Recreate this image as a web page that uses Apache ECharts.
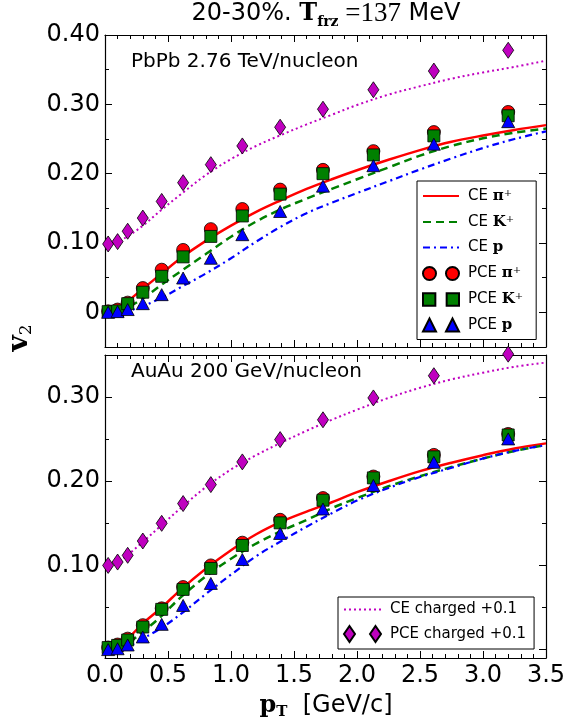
<!DOCTYPE html>
<html>
<head>
<meta charset="utf-8">
<script src="https://cdn.jsdelivr.net/npm/echarts@6/dist/echarts.min.js"></script>
<style>
  html, body { margin: 0; padding: 0; background: #fff; }
  #chart { width: 569px; height: 723px; }
</style>
</head>
<body>
<div id="chart"></div>
<script>
// pT grid of the continuous (CE) curves
const xCurve = [0, 0.1, 0.2, 0.3, 0.45, 0.6, 0.8, 1.0, 1.2, 1.4, 1.6, 1.8, 2.0, 2.25, 2.5, 2.75, 3.0, 3.25, 3.5];
// pT of the PCE points
const xPoints = [0.025, 0.1, 0.18, 0.3, 0.45, 0.62, 0.84, 1.09, 1.39, 1.73, 2.13, 2.61, 3.2];

// PbPb 2.76 TeV/nucleon
const cePionPb   = [0.0, 0.006, 0.019, 0.034, 0.056, 0.078, 0.103, 0.125, 0.145, 0.162, 0.178, 0.192, 0.205, 0.220, 0.234, 0.246, 0.255, 0.263, 0.270];
const ceKaonPb   = [0.0, 0.002, 0.009, 0.020, 0.040, 0.059, 0.084, 0.109, 0.131, 0.149, 0.164, 0.178, 0.192, 0.209, 0.226, 0.240, 0.251, 0.259, 0.265];
const ceProtonPb = [0.0, 0.0, 0.003, 0.009, 0.021, 0.036, 0.056, 0.078, 0.102, 0.124, 0.143, 0.158, 0.172, 0.189, 0.206, 0.222, 0.237, 0.250, 0.261];
const ceChargedPb = [0.099, 0.102, 0.112, 0.125, 0.148, 0.170, 0.198, 0.221, 0.240, 0.256, 0.271, 0.285, 0.299, 0.314, 0.326, 0.337, 0.346, 0.354, 0.363];
const pcePionPb   = [0.0015, 0.004, 0.014, 0.035, 0.0615, 0.090, 0.120, 0.149, 0.177, 0.2055, 0.2325, 0.260, 0.289];
const pceKaonPb   = [0.001, 0.002, 0.0125, 0.029, 0.052, 0.080, 0.1095, 0.139, 0.1705, 0.200, 0.227, 0.2545, 0.2835];
const pceProtonPb = [0.0, 0.001, 0.004, 0.0125, 0.0255, 0.0495, 0.078, 0.112, 0.1455, 0.182, 0.2115, 0.2425, 0.275];
const pceChargedPb = [0.0986, 0.102, 0.117, 0.136, 0.160, 0.187, 0.213, 0.240, 0.267, 0.293, 0.321, 0.348, 0.378];

// AuAu 200 GeV/nucleon
const cePionAu   = [0.0, 0.004, 0.016, 0.031, 0.050, 0.071, 0.096, 0.118, 0.137, 0.152, 0.164, 0.175, 0.187, 0.200, 0.212, 0.222, 0.231, 0.239, 0.245];
const ceKaonAu   = [0.0, 0.003, 0.010, 0.021, 0.040, 0.062, 0.087, 0.108, 0.126, 0.141, 0.154, 0.168, 0.180, 0.194, 0.206, 0.217, 0.227, 0.236, 0.243];
const ceProtonAu = [0.0, 0.001, 0.005, 0.013, 0.026, 0.042, 0.066, 0.089, 0.111, 0.129, 0.146, 0.162, 0.177, 0.192, 0.205, 0.216, 0.227, 0.236, 0.243];
const ceChargedAu = [0.100, 0.104, 0.115, 0.128, 0.148, 0.168, 0.193, 0.214, 0.231, 0.246, 0.260, 0.273, 0.285, 0.299, 0.311, 0.321, 0.329, 0.336, 0.341];
const pcePionAu   = [0.0025, 0.006, 0.013, 0.029, 0.049, 0.0743, 0.100, 0.127, 0.1542, 0.180, 0.2056, 0.2313, 0.2562];
const pceKaonAu   = [0.0024, 0.005, 0.0114, 0.0268, 0.0478, 0.0715, 0.0964, 0.1237, 0.1506, 0.1775, 0.204, 0.229, 0.255];
const pceProtonAu = [0.0, 0.001, 0.0055, 0.015, 0.030, 0.0525, 0.0786, 0.107, 0.138, 0.167, 0.195, 0.2225, 0.2503];
const pceChargedAu = [0.100, 0.104, 0.112, 0.129, 0.150, 0.1735, 0.196, 0.223, 0.2495, 0.273, 0.299, 0.3254, 0.351];

// axis ticks
const xTicks = [0, 0.5, 1.0, 1.5, 2.0, 2.5, 3.0, 3.5];
const yMajorPb = [0, 0.1, 0.2, 0.3, 0.4];
const yMinorPb = [-0.05, 0, 0.05, 0.1, 0.15, 0.2, 0.25, 0.3, 0.35, 0.4];
const yMajorAu = [0, 0.1, 0.2, 0.3];
const yLabelsAu = [0.1, 0.2, 0.3];
const yMinorAu = [0, 0.05, 0.1, 0.15, 0.2, 0.25, 0.3, 0.35];

const RED = '#ff0000', GREEN = '#008000', BLUE = '#0000ff', MAGENTA = '#bf00bf';
const SANS = 'DejaVu Sans', SERIF = 'DejaVu Serif';

const pair = (xs, ys) => xs.map((x, i) => [x, ys[i]]);

function xAxisDef(grid, position, showLabels) {
  return {
    type: 'value', gridIndex: grid, position: position,
    min: xTicks[0], max: xTicks[xTicks.length - 1], interval: 0.5,
    axisLine: { show: true, onZero: false, lineStyle: { color: '#000', width: 1.2 } },
    axisTick: { show: true, inside: true, length: 7, lineStyle: { color: '#000', width: 1 } },
    minorTick: { show: true, splitNumber: 5, length: 4, lineStyle: { color: '#000', width: 1 } },
    splitLine: { show: false },
    axisLabel: {
      show: showLabels, margin: 6, color: '#000', fontFamily: SANS, fontSize: 24,
      formatter: v => v.toFixed(1)
    }
  };
}

function yMajorDef(grid, position, min, max, ticks, labels) {
  return {
    type: 'value', gridIndex: grid, position: position, min: min, max: max,
    axisLine: { show: true, onZero: false, lineStyle: { color: '#000', width: 1.2 } },
    axisTick: { show: true, inside: true, length: 7, customValues: ticks, lineStyle: { color: '#000', width: 1 } },
    splitLine: { show: false },
    axisLabel: labels ? {
      show: true, margin: 5, color: '#000', fontFamily: SANS, fontSize: 24,
      customValues: labels,
      formatter: v => (Math.abs(v) < 1e-9 ? '0' : v.toFixed(2))
    } : { show: false }
  };
}

function yMinorDef(grid, position, min, max, ticks) {
  return {
    type: 'value', gridIndex: grid, position: position, min: min, max: max,
    axisLine: { show: false, onZero: false },
    axisTick: { show: true, inside: true, length: 4, customValues: ticks, lineStyle: { color: '#000', width: 1 } },
    splitLine: { show: false },
    axisLabel: { show: false }
  };
}

function curve(name, xi, yi, ys, color, type, width) {
  return {
    name: name, type: 'line', xAxisIndex: xi, yAxisIndex: yi,
    data: pair(xCurve, ys), showSymbol: false, symbol: 'none',
    smooth: 0.35, z: 2, silent: true,
    lineStyle: { color: color, width: width, type: type }, itemStyle: { color: color }
  };
}

function points(name, xi, yi, ys, color, symbol, size, z) {
  return {
    name: name, type: 'scatter', xAxisIndex: xi, yAxisIndex: yi,
    data: pair(xPoints, ys), symbol: symbol, symbolSize: size, clip: false, z: z,
    itemStyle: { color: color, borderColor: '#000', borderWidth: 0.8, opacity: 1 }
  };
}

const legendRich = {
  t: { fontFamily: SANS, fontSize: 15, lineHeight: 16, color: '#000' },
  b: { fontFamily: SERIF, fontWeight: 'bold', fontSize: 15, lineHeight: 16, color: '#000' },
  sup: { fontFamily: SERIF, fontSize: 10, lineHeight: 9, verticalAlign: 'top', color: '#000' }
};
const legendText = {
  'CE π+': '{t|CE }{b|π}{sup|+}',
  'CE K+': '{t|CE }{b|K}{sup|+}',
  'CE p': '{t|CE }{b|p}',
  'PCE π+': '{t|PCE }{b|π}{sup|+}',
  'PCE K+': '{t|PCE }{b|K}{sup|+}',
  'PCE p': '{t|PCE }{b|p}',
  'CE charged +0.1': '{t|CE charged +0.1}',
  'PCE charged +0.1': '{t|PCE charged +0.1}'
};

const ICON_CIRCLES = 'path://M0,6.5A6.5,6.5,0,1,1,13,6.5A6.5,6.5,0,1,1,0,6.5Z M23,6.5A6.5,6.5,0,1,1,36,6.5A6.5,6.5,0,1,1,23,6.5Z';
const ICON_SQUARES = 'path://M0.5,0.5H12.5V12.5H0.5Z M23.5,0.5H35.5V12.5H23.5Z';
const ICON_TRIANGLES = 'path://M0,13L6.5,0L13,13Z M23,13L29.5,0L36,13Z';
const ICON_DIAMONDS = 'path://M5.5,0L11,8L5.5,16L0,8Z M31.5,0L37,8L31.5,16L26,8Z';
// line entries: keep the stroke, hide the marker drawn in the middle of it
const lineEntry = name => ({ name: name, itemStyle: { opacity: 0, borderWidth: 0 }, lineStyle: { opacity: 1 } });

const chart = echarts.init(document.getElementById('chart'), null, { renderer: 'canvas' });

const option = {
  backgroundColor: '#fff',
  animation: false,
  grid: [
    { left: 105, top: 35, width: 441, height: 312 },
    { left: 105, top: 355, width: 441, height: 303 }
  ],
  xAxis: [
    xAxisDef(0, 'bottom', false),
    xAxisDef(0, 'top', false),
    xAxisDef(1, 'bottom', true),
    xAxisDef(1, 'top', false)
  ],
  yAxis: [
    yMajorDef(0, 'left', -0.05, 0.4, yMajorPb, yMajorPb),
    yMajorDef(0, 'right', -0.05, 0.4, yMajorPb, null),
    yMinorDef(0, 'left', -0.05, 0.4, yMinorPb),
    yMinorDef(0, 'right', -0.05, 0.4, yMinorPb),
    yMajorDef(1, 'left', -0.01, 0.35, yMajorAu, yLabelsAu),
    yMajorDef(1, 'right', -0.01, 0.35, yMajorAu, null),
    yMinorDef(1, 'left', -0.01, 0.35, yMinorAu),
    yMinorDef(1, 'right', -0.01, 0.35, yMinorAu)
  ],
  legend: [
    {
      orient: 'vertical', left: 417, top: 181, z: 20,
      padding: [7, 13, 7, 5], itemGap: 10.5, itemWidth: 36, itemHeight: 13,
      backgroundColor: '#fff', borderColor: '#000', borderWidth: 1, borderRadius: 0,
      selectedMode: false,
      textStyle: { fontFamily: SANS, fontSize: 15, color: '#000', padding: [0, 0, 0, 4], rich: legendRich },
      formatter: n => legendText[n],
      data: [
        lineEntry('CE π+'),
        lineEntry('CE K+'),
        lineEntry('CE p'),
        { name: 'PCE π+', icon: ICON_CIRCLES },
        { name: 'PCE K+', icon: ICON_SQUARES },
        { name: 'PCE p', icon: ICON_TRIANGLES }
      ]
    },
    {
      orient: 'vertical', left: 338, top: 597, z: 20,
      padding: [5, 8, 6, 5], itemGap: 8, itemWidth: 37, itemHeight: 16,
      backgroundColor: '#fff', borderColor: '#000', borderWidth: 1, borderRadius: 0,
      selectedMode: false,
      textStyle: { fontFamily: SANS, fontSize: 15, color: '#000', padding: [0, 0, 0, 4], rich: legendRich },
      formatter: n => legendText[n],
      data: [
        lineEntry('CE charged +0.1'),
        { name: 'PCE charged +0.1', icon: ICON_DIAMONDS }
      ]
    }
  ],
  series: [
    // PbPb panel
    curve('CE π+', 0, 0, cePionPb, RED, 'solid', 2.5),
    curve('CE K+', 0, 0, ceKaonPb, GREEN, [8, 5], 2.5),
    curve('CE p', 0, 0, ceProtonPb, BLUE, [7, 4, 2, 4], 2.2),
    curve('CE charged +0.1', 0, 0, ceChargedPb, MAGENTA, [2, 3], 2),
    points('PCE π+', 0, 0, pcePionPb, RED, 'circle', 13, 3),
    points('PCE K+', 0, 0, pceKaonPb, GREEN, 'rect', 12, 4),
    points('PCE p', 0, 0, pceProtonPb, BLUE, 'triangle', [13, 12], 5),
    points('PCE charged +0.1', 0, 0, pceChargedPb, MAGENTA, 'diamond', [11, 16], 5),
    // AuAu panel
    curve('CE π+', 2, 4, cePionAu, RED, 'solid', 2.5),
    curve('CE K+', 2, 4, ceKaonAu, GREEN, [8, 5], 2.5),
    curve('CE p', 2, 4, ceProtonAu, BLUE, [7, 4, 2, 4], 2.2),
    curve('CE charged +0.1', 2, 4, ceChargedAu, MAGENTA, [2, 3], 2),
    points('PCE π+', 2, 4, pcePionAu, RED, 'circle', 13, 3),
    points('PCE K+', 2, 4, pceKaonAu, GREEN, 'rect', 12, 4),
    points('PCE p', 2, 4, pceProtonAu, BLUE, 'triangle', [13, 12], 5),
    points('PCE charged +0.1', 2, 4, pceChargedAu, MAGENTA, 'diamond', [11, 16], 5)
  ],
  graphic: [
    {
      type: 'text', x: 326, y: 14, z: 30,
      style: {
        text: '{s|20-30%. }{T|T}{sub|frz}{r| =137}{s| MeV}',
        textAlign: 'center', textVerticalAlign: 'middle',
        rich: {
          s: { fontFamily: SANS, fontSize: 24, lineHeight: 30, color: '#000' },
          T: { fontFamily: SERIF, fontWeight: 'bold', fontSize: 24, lineHeight: 30, color: '#000' },
          sub: { fontFamily: SERIF, fontWeight: 'bold', fontSize: 14, lineHeight: 15, verticalAlign: 'bottom', color: '#000' },
          r: { fontFamily: 'Liberation Serif', fontSize: 27, lineHeight: 30, color: '#000' }
        }
      }
    },
    {
      type: 'text', x: 131, y: 62, z: 30,
      style: { text: 'PbPb 2.76 TeV/nucleon', font: '20px "DejaVu Sans"', fill: '#000', textAlign: 'left', textVerticalAlign: 'middle' }
    },
    {
      type: 'text', x: 131, y: 372, z: 30,
      style: { text: 'AuAu 200 GeV/nucleon', font: '20px "DejaVu Sans"', fill: '#000', textAlign: 'left', textVerticalAlign: 'middle' }
    },
    {
      type: 'text', x: 20, y: 338, rotation: Math.PI / 2, z: 30,
      style: {
        text: '{v|v}{sub|2}',
        textAlign: 'center', textVerticalAlign: 'middle',
        rich: {
          v: { fontFamily: SERIF, fontWeight: 'bold', fontSize: 28, lineHeight: 30, color: '#000' },
          sub: { fontFamily: SERIF, fontSize: 17, lineHeight: 16, verticalAlign: 'bottom', color: '#000' }
        }
      }
    },
    {
      type: 'text', x: 326, y: 706, z: 30,
      style: {
        text: '{p|p}{sub|T}{s|  [GeV/c]}',
        textAlign: 'center', textVerticalAlign: 'middle',
        rich: {
          p: { fontFamily: SERIF, fontWeight: 'bold', fontSize: 24, lineHeight: 28, color: '#000' },
          sub: { fontFamily: SERIF, fontWeight: 'bold', fontSize: 15, lineHeight: 14, verticalAlign: 'bottom', color: '#000' },
          s: { fontFamily: SANS, fontSize: 24, lineHeight: 28, color: '#000' }
        }
      }
    }
  ]
};

chart.setOption(option);
</script>
</body>
</html>
